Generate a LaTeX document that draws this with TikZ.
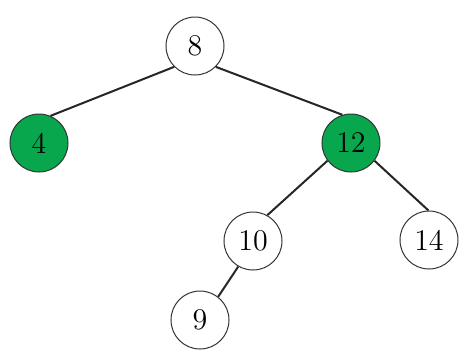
\documentclass[tikz,border=0pt]{standalone}
\definecolor{nodegreen}{RGB}{8,166,77}
\begin{document}
\begin{tikzpicture}[x=0.4pt,y=-0.4pt,
  treenode/.style={circle,draw=black!80,line width=0.4pt,minimum size=23.2pt,inner sep=0pt,font=\large},
  greennode/.style={treenode,fill=nodegreen},
  edge/.style={draw=black!85,line width=0.8pt}]
\useasboundingbox (0,0) rectangle (475,356);
\node[treenode] (n8) at (195,46) {8};
\node[greennode] (n4) at (39,143) {4};
\node[greennode] (n12) at (351,143) {12};
\node[treenode] (n10) at (253,241) {10};
\node[treenode] (n14) at (429,240) {14};
\node[treenode] (n9) at (200,320) {9};
\draw[edge] (n8.225) -- (n4.67);
\draw[edge] (n8.-45) -- (n12.107);
\draw[edge] (n12.217) -- (n10.61);
\draw[edge] (n12.-37) -- (n14.91);
\draw[edge] (n10.240) -- (n9.52);
\end{tikzpicture}
\end{document}
